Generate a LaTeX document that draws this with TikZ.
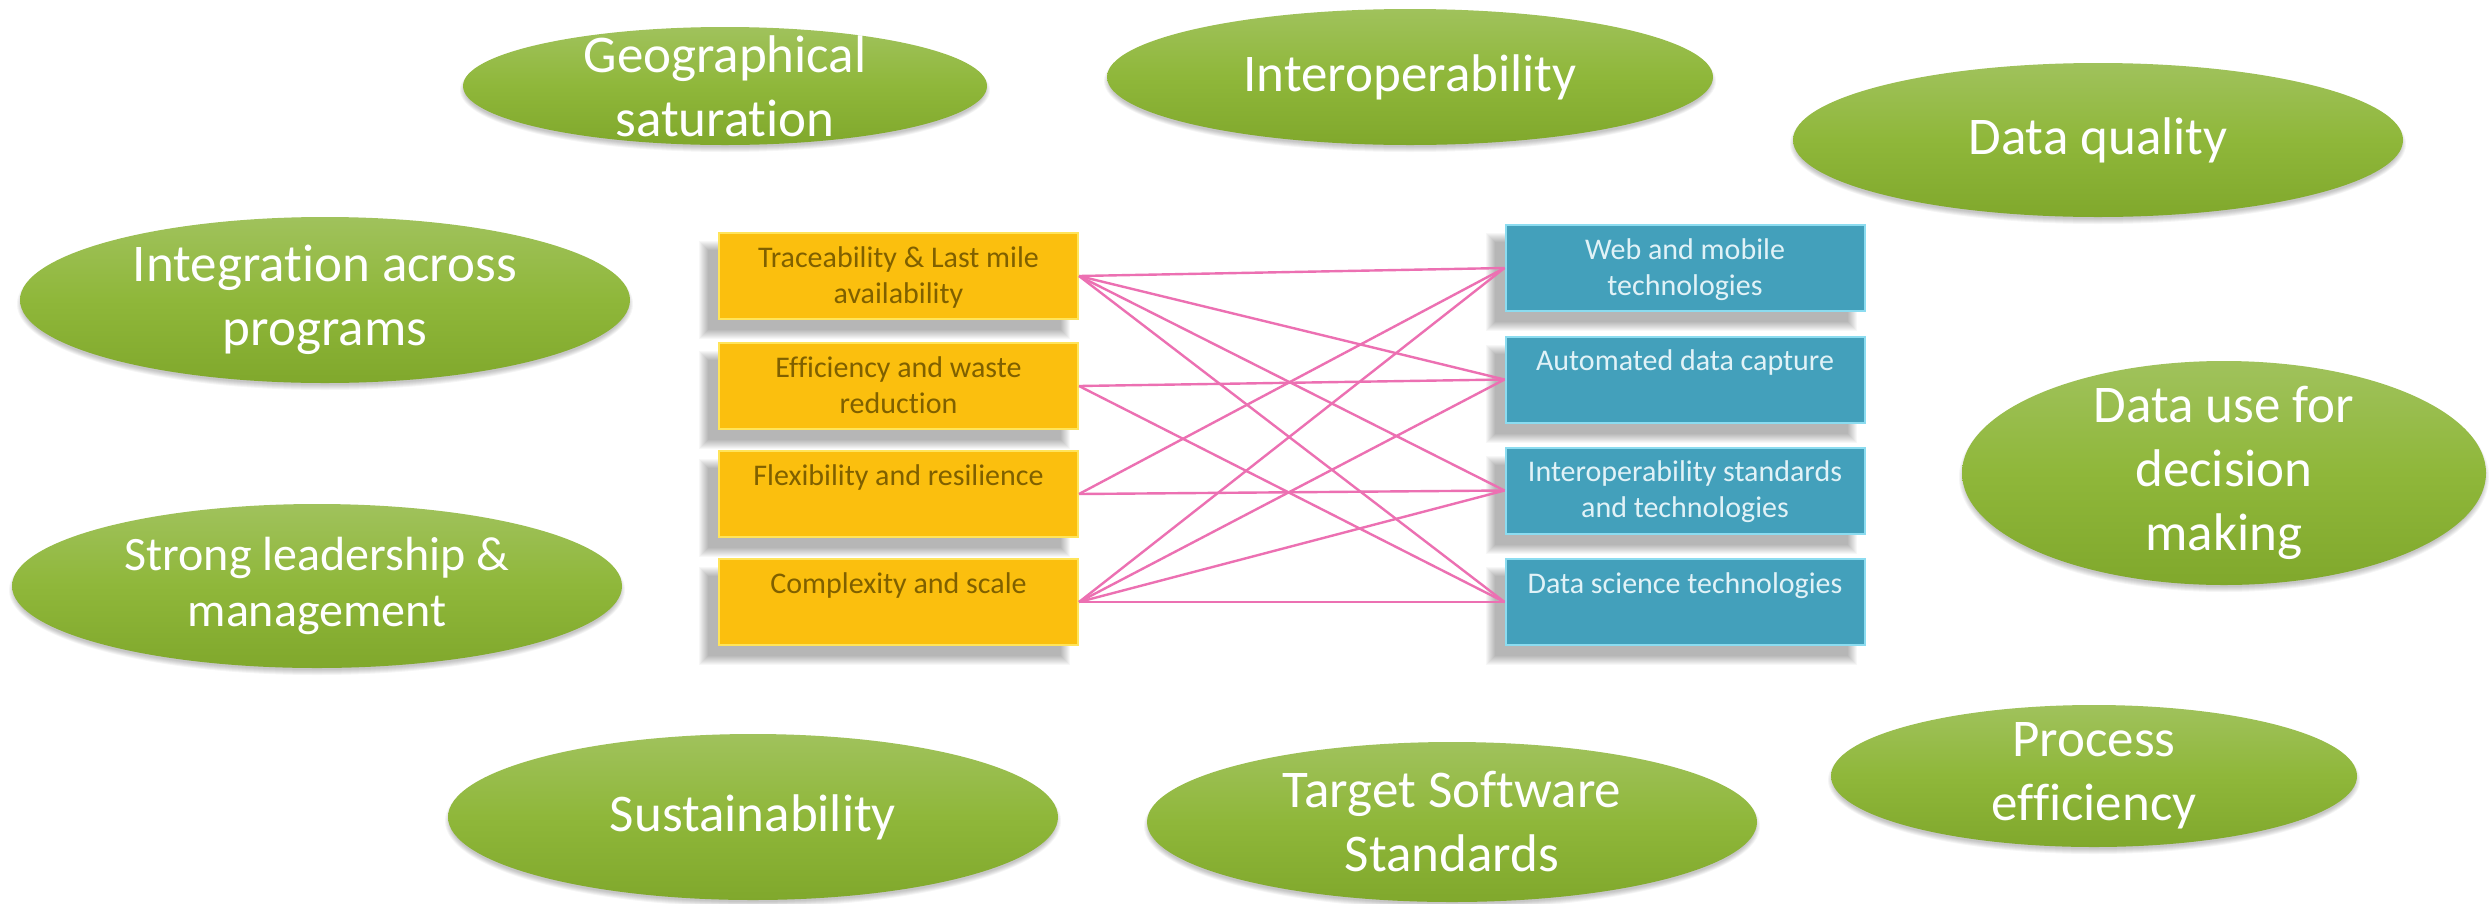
\documentclass[tikz,border=0pt]{standalone}
\usepackage{fontspec}
\setmainfont[Ligatures=NoCommon]{Carlito}
\usetikzlibrary{shapes.geometric}
\definecolor{gtop}{RGB}{160,194,92}
\definecolor{gmid}{RGB}{143,183,58}
\definecolor{gbot}{RGB}{128,168,44}
\definecolor{ofill}{RGB}{251,191,14}
\definecolor{oedge}{RGB}{255,228,90}
\definecolor{otext}{RGB}{127,96,0}
\definecolor{bfill}{RGB}{67,160,187}
\definecolor{bedge}{RGB}{140,220,240}
\definecolor{btext}{RGB}{225,242,247}
\definecolor{pinkc}{RGB}{236,112,178}
\tikzset{
  ellshape/.style={ellipse, inner sep=0pt, draw=none, top color=gtop, bottom color=gbot, middle color=gmid},
  elltext/.style={align=center, text=white, inner sep=0pt},
  bigfont/.style={font=\fontsize{53}{64}\selectfont},
  midfont/.style={font=\fontsize{48}{56}\selectfont},
  orangebox/.style={rectangle, inner sep=0pt, fill=ofill, draw=oedge, line width=2pt, text=otext, font=\fontsize{30}{36}\selectfont},
  bluebox/.style={rectangle, inner sep=0pt, fill=bfill, draw=bedge, line width=2pt, text=btext, font=\fontsize{30}{36}\selectfont},
  conn/.style={draw=pinkc, line width=2.4pt},
  softshade/.style={fill=black, opacity=0.04},
  boxshade/.style={fill=black, opacity=0.03}
}
% name, cx, cy, rx, ry, font style, text
\newcommand\ellnode[7]{%
  \foreach \k in {0,...,5}{\fill[softshade] (#2,#3+4) ellipse [x radius={#4+\k-2}, y radius={#5+\k-2}];}
  \node[ellshape, minimum width={2*#4pt}, minimum height={2*#5pt},
        label={[elltext,#6]center:{#7}}] (#1) at (#2,#3) {};
}
% name, cx, cy, style, text
\newcommand\boxnode[5]{%
  \foreach \k in {0,...,9}{\fill[boxshade] ({#2-179.5-14+3-\k},{#3-43+14+3-\k}) rectangle ({#2+179.5-14-3+\k},{#3+43+14-3+\k});}
  \node[#4, minimum width=359pt, minimum height=86pt] (#1) at (#2,#3)
    {\parbox[c][86pt][t]{359pt}{\centering\rule{0pt}{34pt}#5}};
}
\begin{document}
\begin{tikzpicture}[x=1pt,y=-1pt]
\useasboundingbox (0,0) rectangle (2489,903);
\fill[white] (0,0) rectangle (2489,903);

\ellnode{geo}{725}{86}{262}{59}{bigfont}{Geographical\\saturation}
\ellnode{inter}{1410}{77}{303}{68}{bigfont}{Interoperability}
\ellnode{dq}{2098}{140}{305}{77}{bigfont}{Data quality}
\ellnode{integ}{325}{300}{305}{83}{bigfont}{Integration across\\programs}
\ellnode{datause}{2224}{473}{262}{112}{bigfont}{Data use for\\decision\\making}
\ellnode{strong}{317}{586}{305}{82}{midfont}{Strong leadership \&\\management}
\ellnode{sust}{753}{817}{305}{83}{bigfont}{Sustainability}
\ellnode{target}{1452}{822}{305}{80}{bigfont}{Target Software\\Standards}
\ellnode{proc}{2094}{776}{263}{71}{bigfont}{Process\\efficiency}

\boxnode{o1}{898.5}{276}{orangebox}{Traceability \& Last mile\\availability}
\boxnode{o2}{898.5}{386}{orangebox}{Efficiency and waste\\reduction}
\boxnode{o3}{898.5}{494}{orangebox}{Flexibility and resilience}
\boxnode{o4}{898.5}{602}{orangebox}{Complexity and scale}

\boxnode{b1}{1685}{268}{bluebox}{Web and mobile\\technologies}
\boxnode{b2}{1685}{379.5}{bluebox}{Automated data capture}
\boxnode{b3}{1685}{490.5}{bluebox}{Interoperability standards\\and technologies}
\boxnode{b4}{1685}{602}{bluebox}{Data science technologies}

\foreach \a/\b in {o1/b1,o1/b2,o1/b3,o1/b4,o2/b2,o2/b4,o3/b1,o3/b3,o4/b1,o4/b2,o4/b3,o4/b4}
  \draw[conn] (\a.east) -- (\b.west);
\end{tikzpicture}
\end{document}
